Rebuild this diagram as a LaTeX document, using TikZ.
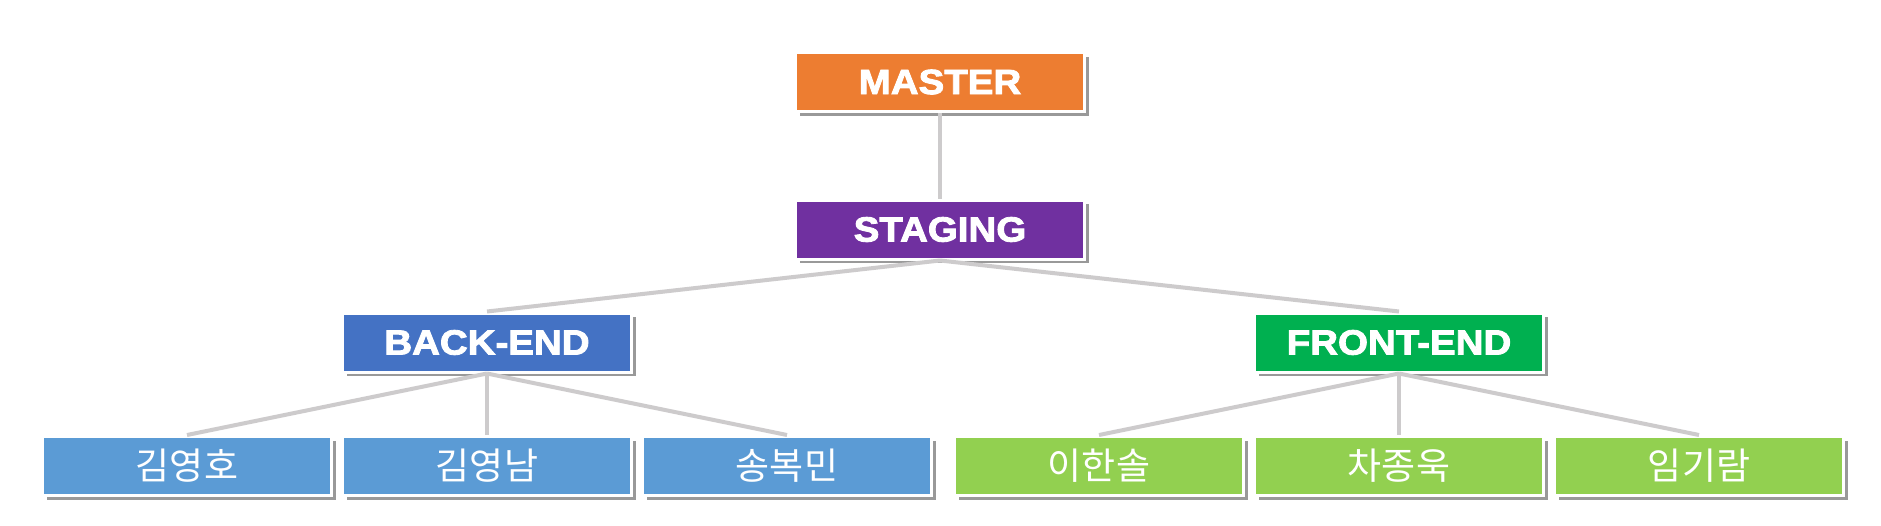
\documentclass[tikz,border=0pt]{standalone}
\usepackage{fontspec}
\setmainfont{Liberation Sans}
\newfontfamily\headfont[FakeStretch=1.1,FakeBold=2.5]{Liberation Sans Bold}
\newfontfamily\korfont{Noto Sans CJK KR}
\usetikzlibrary{positioning,shadows}

\definecolor{masterorange}{HTML}{ED7D31}
\definecolor{stagingpurple}{HTML}{7030A0}
\definecolor{backblue}{HTML}{4472C4}
\definecolor{frontgreen}{HTML}{00B050}
\definecolor{memberblue}{HTML}{5B9BD5}
\definecolor{membergreen}{HTML}{92D050}
\definecolor{linegray}{HTML}{CDCBCC}

\begin{document}
\begin{tikzpicture}[x=1pt,y=-1pt,
	box/.style={draw=white, line width=3pt, minimum width=289pt, minimum height=59pt, inner sep=0pt, text=white,
		drop shadow={shadow xshift=4pt, shadow yshift=-4pt, fill=black, opacity=0.4}},
	head/.style={box, font=\headfont\fontsize{35}{40}\selectfont},
	member/.style={box, font=\korfont\fontsize{37}{42}\selectfont},
	link/.style={linegray, line width=4pt}]
				\fill[white] (0,0) rectangle (1881,525);
				\useasboundingbox (0,0) rectangle (1881,525);
				% top of the tree
				\node[head, fill=masterorange] (master) at (940,82) {MASTER};
				\node[head, fill=stagingpurple] (staging) at (940,229.5) {STAGING};
				\node[head, fill=backblue] (backend) at (487,342.5) {BACK-END};
				\node[head, fill=frontgreen] (frontend) at (1399,342.5) {FRONT-END};
				% members
				\node[member, fill=memberblue] (kimyh) at (187,466) {김영호};
				\node[member, fill=memberblue] (kimyn) at (487,466) {김영남};
				\node[member, fill=memberblue] (songbm) at (787,466) {송복민};
				\node[member, fill=membergreen] (leehs) at (1099,466) {이한솔};
				\node[member, fill=membergreen] (chajw) at (1399,466) {차종욱};
				\node[member, fill=membergreen] (limgr) at (1699,466) {임기람};
				% links
				\draw[link] (master.south) -- (staging.north);
				\draw[link] (staging.south) -- (backend.north);
				\draw[link] (staging.south) -- (frontend.north);
				\foreach \m in {kimyh,kimyn,songbm}
					\draw[link] (backend.south) -- (\m.north);
				\foreach \m in {leehs,chajw,limgr}
					\draw[link] (frontend.south) -- (\m.north);
			\end{tikzpicture}
\end{document}
